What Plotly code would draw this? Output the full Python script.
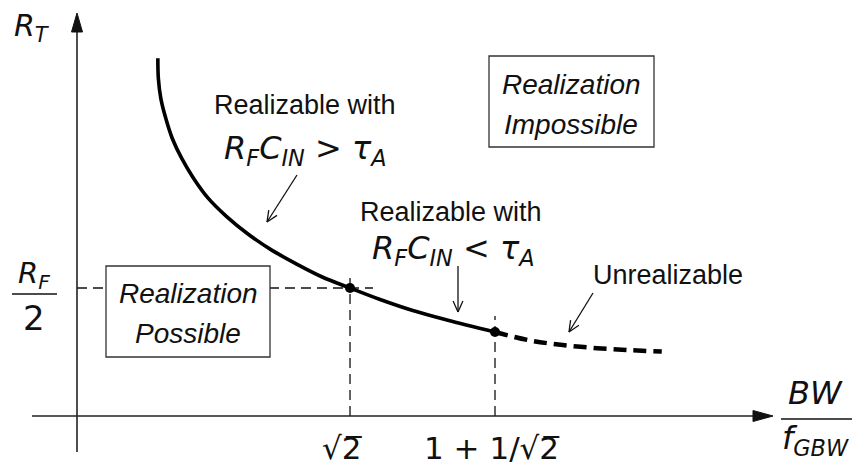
import math
import plotly.graph_objects as go

# ---- data ---------------------------------------------------------------
SQRT2 = math.sqrt(2.0)

# normalised bandwidth BW/f_GBW and transimpedance R_T/R_F along the limit curve
bw_solid = [1.026, 1.027, 1.032, 1.042, 1.055, 1.074, 1.098, 1.128, 1.165,
            1.208, 1.256, 1.303, 1.357, SQRT2, 1.475, 1.541, 1.610, 1 + 1 / SQRT2]
rt_solid = [1.397, 1.319, 1.241, 1.163, 1.085, 1.007, 0.929, 0.850, 0.779,
            0.711, 0.648, 0.597, 0.544, 0.500, 0.455, 0.412, 0.375, 0.328]
bw_dashed = [1 + 1 / SQRT2, 1.778, 1.844, 1.913, 1.980, 2.044]
rt_dashed = [0.328, 0.295, 0.277, 0.265, 0.257, 0.252]

# special operating points
bw_marks = [SQRT2, 1 + 1 / SQRT2]
rt_marks = [0.500, 0.328]
tick_text = ["\u221a2\u0305", "1 + 1/\u221a2\u0305"]
rf_half = 0.5

# ---- scale of the drawing --------------------------------------------------
W, H = 852, 472
KX = 495.0            # pixels per unit of BW/f_GBW
KY = 256.0            # pixels per unit of R_T/R_F
X_LEFT = 1 / SQRT2
AXIS_PY = 416.0       # vertical pixel position of R_T = 0


def hx(px):
    return X_LEFT + px / KX


def vy(py):
    return (AXIS_PY - py) / KY


X_RANGE = [hx(0), hx(W)]
Y_RANGE = [vy(H), vy(0)]

INK = "#111111"
TEXT_FONT = "Liberation Sans, Arial, sans-serif"
MATH_FONT = "DejaVu Sans, Verdana, sans-serif"

fig = go.Figure()


def line(xs, ys, width=1.5, dash=None, color=INK):
    fig.add_trace(go.Scatter(x=xs, y=ys, mode="lines", hoverinfo="skip",
                             showlegend=False,
                             line=dict(color=color, width=width, dash=dash)))


def to_px(x, y):
    return (x - X_LEFT) * KX, y * KY


def from_px(px, py):
    return X_LEFT + px / KX, py / KY


def open_arrow(x0, y0, x1, y1, wing=12, spread=0.42, width=1.3):
    line([x0, x1], [y0, y1], width=width)
    p0, p1 = to_px(x0, y0), to_px(x1, y1)
    dx, dy = p1[0] - p0[0], p1[1] - p0[1]
    n = math.hypot(dx, dy)
    ux, uy = dx / n, dy / n
    for s in (spread, -spread):
        rx = ux * math.cos(s) - uy * math.sin(s)
        ry = ux * math.sin(s) + uy * math.cos(s)
        wx, wy = from_px(p1[0] - wing * rx, p1[1] - wing * ry)
        line([x1, wx], [y1, wy], width=width)


def solid_head(x_tip, y_tip, ux, uy, length=19, half=5.5):
    tx, ty = to_px(x_tip, y_tip)
    bx, by = tx - ux * length, ty - uy * length
    nx, ny = -uy, ux
    pts = [(tx, ty), (bx + nx * half, by + ny * half), (bx - nx * half, by - ny * half)]
    xs, ys = zip(*[from_px(*p) for p in pts])
    fig.add_trace(go.Scatter(x=list(xs) + [xs[0]], y=list(ys) + [ys[0]], mode="lines",
                             fill="toself", fillcolor=INK, hoverinfo="skip",
                             showlegend=False, line=dict(color=INK, width=1)))


# ---- coordinate axes with arrows ----------------------------------------------
y_axis_x = hx(77)
x_axis_start, x_axis_tip = hx(32), hx(773)
y_axis_bottom, y_axis_tip = vy(452), vy(13)
line([x_axis_start, x_axis_tip - 15 / KX], [0, 0], width=1.6, color="#222222")
line([y_axis_x, y_axis_x], [y_axis_bottom, y_axis_tip - 15 / KY], width=1.6, color="#222222")
solid_head(x_axis_tip, 0, 1, 0, length=20)
solid_head(y_axis_x, y_axis_tip, 0, 1, length=19)

# ---- guide lines at the operating points ----------------------------------------
shapes = []
guide = dict(color=INK, width=1.3, dash="10px,6px")
shapes.append(dict(type="line", xref="x", yref="y", layer="below",
                   x0=y_axis_x, x1=bw_marks[0] + 23 / KX, y0=rf_half, y1=rf_half, line=guide))
shapes.append(dict(type="line", xref="x", yref="y", layer="below",
                   x0=bw_marks[0], x1=bw_marks[0], y0=0, y1=rt_marks[0] + 16 / KY, line=guide))
shapes.append(dict(type="line", xref="x", yref="y", layer="below",
                   x0=bw_marks[1], x1=bw_marks[1], y0=0, y1=rt_marks[1] + 16 / KY, line=guide))

# region boxes (white fill covers the guide beneath)
box_line = dict(color="#333333", width=1.3)
shapes.append(dict(type="rect", xref="x", yref="y", layer="below",
                   x0=hx(106), x1=hx(270), y0=vy(357), y1=vy(266),
                   line=box_line, fillcolor="white"))
shapes.append(dict(type="rect", xref="x", yref="y", layer="below",
                   x0=hx(489), x1=hx(654), y0=vy(147), y1=vy(56),
                   line=box_line, fillcolor="white"))

# fraction bars for R_F/2 and BW/f_GBW
shapes.append(dict(type="line", xref="x", yref="y", x0=hx(12), x1=hx(57),
                   y0=vy(294), y1=vy(294), line=dict(color=INK, width=1.6)))
shapes.append(dict(type="line", xref="x", yref="y", x0=hx(781), x1=hx(852),
                   y0=vy(419), y1=vy(419), line=dict(color=INK, width=1.6)))

# ---- limit curve ----------------------------------------------------------------
fig.add_trace(go.Scatter(x=bw_solid, y=rt_solid, mode="lines", hoverinfo="skip",
                         showlegend=False,
                         line=dict(color="black", width=3.6, shape="spline", smoothing=1.0)))
fig.add_trace(go.Scatter(x=bw_dashed, y=rt_dashed, mode="lines", hoverinfo="skip",
                         showlegend=False,
                         line=dict(color="black", width=4.5, dash="13px,7px",
                                   shape="spline", smoothing=1.0)))
fig.add_trace(go.Scatter(x=bw_marks, y=rt_marks, mode="markers", hoverinfo="skip",
                         showlegend=False, marker=dict(color="black", size=10)))

# ---- pointer arrows ---------------------------------------------------------------
open_arrow(hx(297), vy(175), hx(267), vy(222))
open_arrow(hx(458), vy(266), hx(458), vy(312))
open_arrow(hx(593), vy(293), hx(569), vy(332))

# ---- text -----------------------------------------------------------------------
ann = []


def text(s, px, py, size, family=TEXT_FONT, xanchor="center", x=None, y=None, xshift=0):
    ann.append(dict(text=s, x=hx(px) if x is None else x, y=vy(py) if y is None else y,
                    xref="x", yref="y", showarrow=False, xanchor=xanchor, xshift=xshift,
                    yanchor="middle", font=dict(family=family, size=size, color=INK)))


text("Realizable with", 305, 105, 27)
text("<i>R</i><sub><i>F</i></sub><i>C</i><sub><i>IN</i></sub> &gt; "
     "<i>\u03c4</i><sub><i>A</i></sub>", 305, 150, 32, MATH_FONT)
text("Realizable with", 451, 212, 27)
text("<i>R</i><sub><i>F</i></sub><i>C</i><sub><i>IN</i></sub> &lt; "
     "<i>\u03c4</i><sub><i>A</i></sub>", 453, 250, 32, MATH_FONT)
text("Unrealizable", 668, 275, 27)

text("<i>Realization</i>", 188, 293, 28)
text("<i>Possible</i>", 188, 333, 28)
text("<i>Realization</i>", 571, 84, 28)
text("<i>Impossible</i>", 571, 124, 28)

# axis titles
text("<i>R</i><sub><i>T</i></sub>", 12, 27, 30, MATH_FONT, xanchor="left")
text("<i>R</i><sub><i>F</i></sub>", 34, 275, 29, MATH_FONT, y=rf_half + 13 / KY)
text("2", 34, 318, 34, MATH_FONT)
text("<i>BW</i>", 815, 393, 32, MATH_FONT)
text("<i>f</i><sub><i>GBW</i></sub>", 815, 440, 32, MATH_FONT)

# tick labels at the special bandwidths
for xv, lab, shift in zip(bw_marks, tick_text, (-8, -3)):
    text(lab, 0, 448, 31, MATH_FONT, x=xv, xshift=shift)

fig.update_layout(
    width=W, height=H, margin=dict(l=0, r=0, t=0, b=0),
    paper_bgcolor="white", plot_bgcolor="white",
    xaxis=dict(range=X_RANGE, visible=False, fixedrange=True),
    yaxis=dict(range=Y_RANGE, visible=False, fixedrange=True),
    shapes=shapes, annotations=ann, showlegend=False,
)

fig.write_html("out.html")
